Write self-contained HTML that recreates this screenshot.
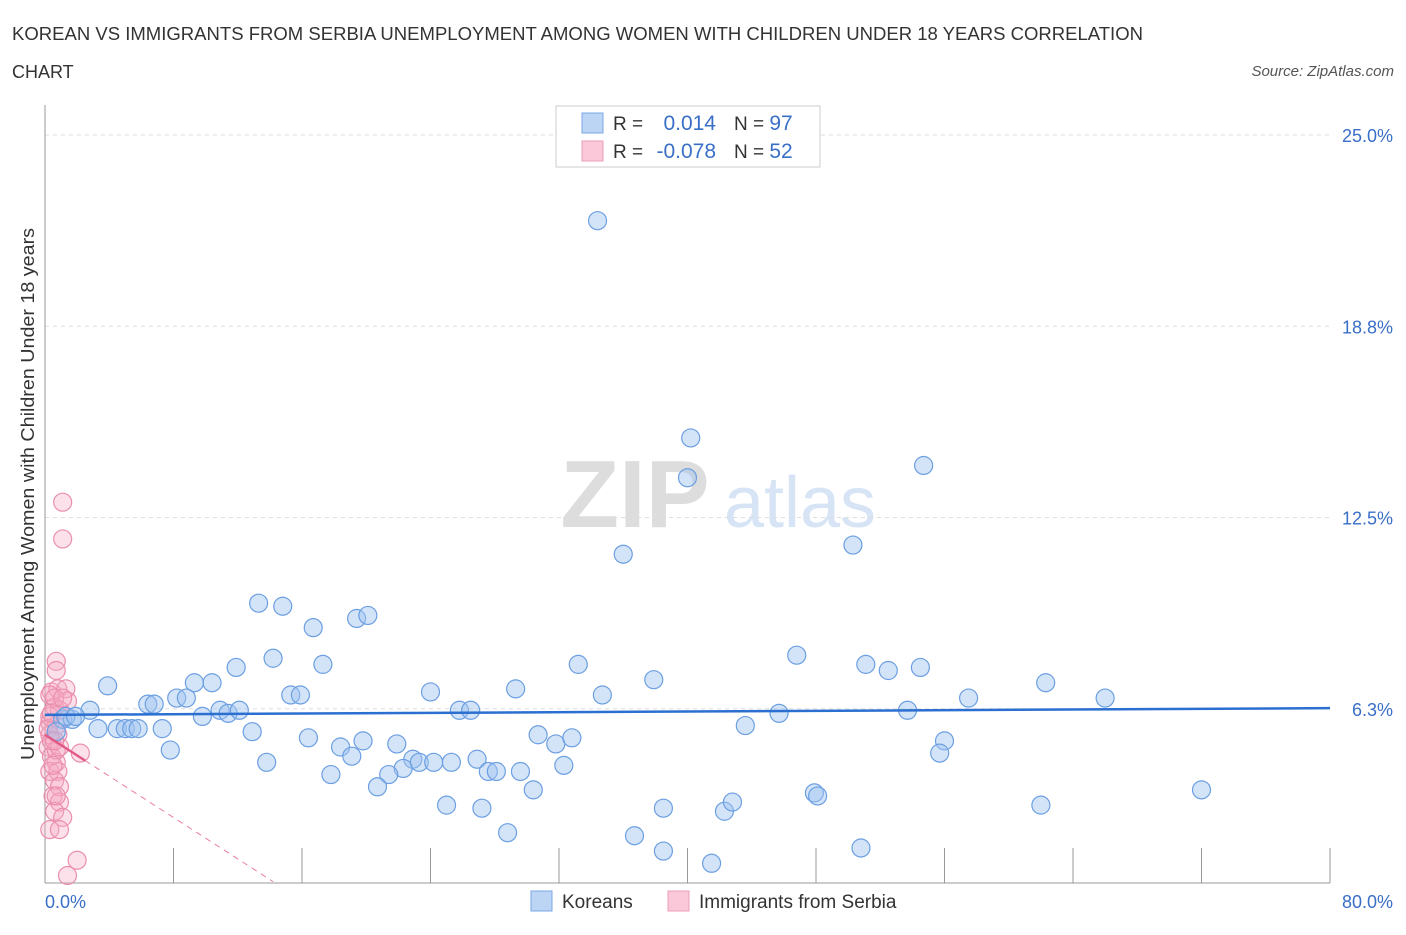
<!DOCTYPE html>
<html><head><meta charset="utf-8"><style>
body{margin:0;background:#fff;font-family:"Liberation Sans",sans-serif;}
svg text{font-family:"Liberation Sans",sans-serif;}
</style></head><body>
<svg id="chart" width="1406" height="930" xmlns="http://www.w3.org/2000/svg">
<text x="12" y="40" font-size="18" fill="#333" textLength="1131" lengthAdjust="spacingAndGlyphs">KOREAN VS IMMIGRANTS FROM SERBIA UNEMPLOYMENT AMONG WOMEN WITH CHILDREN UNDER 18 YEARS CORRELATION</text>
<text x="12" y="78" font-size="18" fill="#333">CHART</text>
<text x="1394" y="76" font-size="15" fill="#555" text-anchor="end" font-style="italic">Source: ZipAtlas.com</text>
<g>
<text x="635" y="527" font-size="96" fill="#ddd" font-family="Liberation Serif" text-anchor="middle" font-weight="bold">ZIP</text>
<text x="800" y="527" font-size="72" fill="#d6e4f5" text-anchor="middle">atlas</text>
</g>
<g id="grid"></g>
<g id="axes"></g>
<g id="marks"></g>
<text transform="translate(34,494) rotate(-90)" font-size="18" fill="#333" text-anchor="middle" textLength="532" lengthAdjust="spacingAndGlyphs">Unemployment Among Women with Children Under 18 years</text>
<g>
<rect x="556" y="106" width="264" height="61" fill="#fff" stroke="#ccc"/>
<rect x="582" y="113" width="21" height="20" fill="#bcd5f5" stroke="#7aa8e6"/>
<rect x="582" y="141" width="21" height="20" fill="#fac8d8" stroke="#eba0b8"/>
<text x="613" y="130" font-size="19" fill="#333">R = </text>
<text x="716" y="130" font-size="21" fill="#3a6fc8" text-anchor="end">0.014</text>
<text x="734" y="130" font-size="19" fill="#333">N = <tspan fill="#3a6fc8" font-size="21">97</tspan></text>
<text x="613" y="158" font-size="19" fill="#333">R = </text>
<text x="716" y="158" font-size="21" fill="#3a6fc8" text-anchor="end">-0.078</text>
<text x="734" y="158" font-size="19" fill="#333">N = <tspan fill="#3a6fc8" font-size="21">52</tspan></text>
</g>
<g>
<rect x="531" y="891" width="21" height="20" fill="#bcd5f5" stroke="#7aa8e6"/>
<text x="562" y="908" font-size="19" fill="#333">Koreans</text>
<rect x="668" y="891" width="21" height="20" fill="#fac8d8" stroke="#eba0b8"/>
<text x="699" y="908" font-size="19" fill="#333">Immigrants from Serbia</text>
</g>
</svg>
<script>
const yTicks=[25,18.75,12.5,6.25];
const yTickLabels=["25.0%","18.8%","12.5%","6.3%"];
const xTickVals=[0,8,16,24,32,40,48,56,64,72,80];
const blueX=[34.4,40.2,40.0,54.7,50.3,36.0,13.3,14.8,16.7,19.4,20.1,46.8,51.1,52.5,54.5,33.2,37.9,17.3,14.2,11.9,3.9,9.3,10.4,8.2,8.8,6.4,6.8,15.3,15.9,24.0,29.3,34.7,57.5,62.3,66.0,53.7,45.7,43.6,9.8,10.9,11.4,12.1,25.8,26.5,2.8,1.1,1.7,3.3,4.5,5.0,5.4,5.8,7.3,12.9,16.4,18.4,19.8,21.9,19.1,30.7,31.8,32.8,56.0,55.7,7.8,13.8,22.9,23.3,24.2,25.3,26.9,22.3,21.4,17.8,27.6,28.1,29.6,32.3,20.7,30.4,25.0,27.2,28.8,38.5,42.3,42.8,47.9,48.1,62.0,72.0,36.7,38.5,41.5,50.8,0.7,1.3,1.9];
const blueY=[22.2,15.1,13.8,14.2,11.6,11.3,9.7,9.6,8.9,9.2,9.3,8.0,7.7,7.5,7.6,7.7,7.2,7.7,7.9,7.6,7.0,7.1,7.1,6.6,6.6,6.4,6.4,6.7,6.7,6.8,6.9,6.7,6.6,7.1,6.6,6.2,6.1,5.7,6.0,6.2,6.1,6.2,6.2,6.2,6.2,5.9,5.9,5.6,5.6,5.6,5.6,5.6,5.6,5.5,5.3,5.0,5.2,5.1,4.7,5.4,5.1,5.3,5.2,4.8,4.9,4.5,4.6,4.5,4.5,4.5,4.6,4.3,4.1,4.1,4.2,4.2,4.2,4.4,3.7,3.6,3.1,3.0,2.2,3.0,2.9,3.2,3.5,3.4,3.1,3.6,2.1,1.6,1.2,1.7,5.5,6.0,6.0];
const pinkX=[1.1,1.1,0.7,0.7,0.4,0.8,1.3,0.3,0.6,1.4,0.9,0.3,0.7,0.3,0.8,0.2,0.4,0.7,0.3,0.8,0.6,0.9,0.5,0.9,0.6,1.1,0.3,0.9,0.3,0.2,0.4,0.7,0.9,2.2,2.0,1.4,0.6,1.1,0.4,0.6,0.5,0.7];
const pinkY=[13.0,11.8,7.8,7.5,6.8,6.9,6.9,6.7,6.3,6.5,6.2,5.8,5.7,5.4,5.4,5.0,4.7,4.5,4.2,4.2,3.9,3.7,3.4,3.2,2.9,2.7,2.3,2.3,6.0,5.6,5.2,4.9,5.0,4.8,1.3,0.8,6.6,6.6,6.1,5.2,4.4,3.4];
const blueTrend=[6.05,6.27];
const pinkTrend=[5.4,0.6];
const pinkTrendEndX=14.2, pinkSolidEndX=2.5;

const NS="http://www.w3.org/2000/svg";
const X0=45,X1=1330,Y0=900;
const sx=v=>X0+v*(X1-X0)/80;
const sy=v=>Y0-v*30.6;
function mk(tag,attrs,parent){const e=document.createElementNS(NS,tag);for(const k in attrs)e.setAttribute(k,attrs[k]);parent.appendChild(e);return e;}
const grid=document.getElementById('grid'),axes=document.getElementById('axes'),marks=document.getElementById('marks');
yTicks.forEach((t,i)=>{
 const l=mk('line',{x1:45,x2:1330,y1:sy(t),y2:sy(t),stroke:'#ddd','stroke-dasharray':'4,4'},grid);
 
 
 const tx=mk('text',{x:1393,y:sy(t)+7,'font-size':18,fill:'#3a6fc8','text-anchor':'end'},axes);
 tx.textContent=yTickLabels[i];
 
 
});
let a=mk('line',{x1:45,x2:45,y1:105,y2:883,stroke:'#999'},axes);


a=mk('line',{x1:45,x2:1330,y1:883,y2:883,stroke:'#999'},axes);


xTickVals.forEach(t=>{
 const l=mk('line',{x1:sx(t),x2:sx(t),y1:848,y2:883,stroke:'#999'},axes);
 
 
});
let t=mk('text',{x:45,y:908,'font-size':18,fill:'#3a6fc8'},axes);t.textContent='0.0%';


t=mk('text',{x:1393,y:908,'font-size':18,fill:'#3a6fc8','text-anchor':'end'},axes);t.textContent='80.0%';


pinkX.forEach((v,i)=>{
 const c=mk('circle',{cx:sx(v),cy:sy(pinkY[i]),r:9,fill:'rgba(246,168,195,0.35)',stroke:'#ea8fae','stroke-width':1.2},marks);
 
 
});
blueX.forEach((v,i)=>{
 const c=mk('circle',{cx:sx(v),cy:sy(blueY[i]),r:9,fill:'rgba(160,196,240,0.45)',stroke:'#6b9fe2','stroke-width':1.2},marks);
 
 
});
const pv=x=>pinkTrend[0]+(pinkTrend[1]-pinkTrend[0])*x/pinkTrendEndX;
let l=mk('line',{x1:sx(pinkSolidEndX),y1:sy(pv(pinkSolidEndX)),x2:sx(pinkTrendEndX),y2:sy(pinkTrend[1]),stroke:'#e87fa0','stroke-dasharray':'6,5','stroke-width':1},marks);


l=mk('line',{x1:sx(0),y1:sy(pinkTrend[0]),x2:sx(pinkSolidEndX),y2:sy(pv(pinkSolidEndX)),stroke:'#e05a88','stroke-width':2.5},marks);


l=mk('line',{x1:sx(0),y1:sy(blueTrend[0]),x2:sx(80),y2:sy(blueTrend[1]),stroke:'#2b6fd0','stroke-width':2.5},marks);


</script>
</body></html>
